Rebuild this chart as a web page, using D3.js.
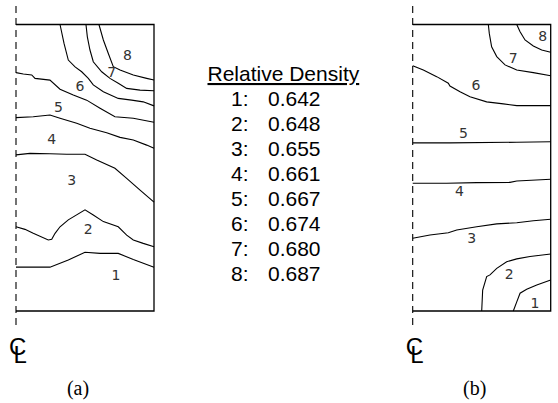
<!DOCTYPE html>
<html>
<head>
<meta charset="utf-8">
<script src="https://cdn.jsdelivr.net/npm/d3@7"></script>
<style>
  body { margin: 0; background: #fff; }
  svg { display: block; }
</style>
</head>
<body>
<svg width="558" height="403"></svg>
<script>
// contour levels (relative density)
var levels = ["1", "2", "3", "4", "5", "6", "7", "8"];
var densities = [0.642, 0.648, 0.655, 0.661, 0.667, 0.674, 0.680, 0.687];

// contours, [r, z] in % of radius (from centre line) and % of height (from bottom)
var contoursA = [
  [[0,15.3],[24.6,15.3],[37.9,17.8],[50,20.5],[60.9,20.1],[74.1,20.1],[85,18],[100,15.3]],
  [[0,29.4],[6.5,28.5],[12.5,27.1],[23.4,24.8],[25.9,25],[28.3,27.1],[31.9,29.4],[37.9,31.8],[50,35.3],[56,33.5],[63.3,31.2],[74.1,29.4],[80.2,26.5],[85,24.8],[92.2,23.6],[100,22.4]],
  [[0,54.5],[10.1,55],[24.6,54.9],[36.7,54.7],[50,54.7],[58.5,52.7],[71.7,49.8],[80.2,46.3],[89.9,42.2],[100,38]],
  [[0,67.5],[12.5,67.8],[24.6,68.4],[31.9,67.3],[44,65.5],[53.6,63.8],[65.7,62.2],[75.4,60.6],[85,59.7],[94.7,57.9],[100,56.8]],
  [[0,83.2],[5.3,82.7],[11.4,82.4],[13.8,81.2],[24.6,80.6],[31.9,77.4],[41.5,75.4],[51.2,73.6],[60.9,70.8],[71.7,67.8],[85,67.3],[100,65.9]],
  [[31.9,100],[34.8,93.4],[37.9,87.6],[42.8,85.2],[47.6,83.5],[52.4,81.2],[56,78.9],[63.3,76.5],[74.1,74.2],[83.8,73.6],[92.2,73],[100,71.6]],
  [[50.7,100],[51.7,95.7],[53.6,91.1],[56,87],[62.1,83.5],[68.1,81.2],[74.1,79.5],[80.2,77.7],[89.9,77.1],[100,76.9]],
  [[60.1,100],[63.3,94.6],[66.9,89.9],[70.5,85.3],[75.4,84.1],[85,82.4],[94.7,81.2],[100,80.6]]
];
var labelsA = [[72.5,12.6],[52.4,28.5],[40.4,45.7],[25.9,59.9],[30.7,71.3],[46.4,78.5],[69.3,83.5],[80.7,89.3]];

var contoursB = [
  [[72.9,0],[75.4,3.2],[77.8,6.2],[82.6,7.6],[89.9,9.1],[100,10.8]],
  [[50,0],[50.7,7.3],[53.6,12],[56,12.6],[60.9,14.9],[68.1,17.2],[75.4,18.2],[85,19],[100,19.9]],
  [[0,25.4],[12.5,26.5],[25.8,27.3],[31.9,28.3],[46.4,29.4],[60.9,30.4],[75.4,30.8],[87.4,31.5],[100,32]],
  [[0,44.6],[24.6,44.6],[46.4,44.8],[70.5,44.9],[75.4,45.4],[100,46]],
  [[0,58.7],[27,58.7],[75.4,58.9],[100,59.1]],
  [[0,85.6],[7.7,84.1],[17.4,81.8],[25.8,79.5],[27,78.5],[34.3,76.5],[41.5,74.8],[53.6,73],[65.7,72.3],[75.4,71.7],[100,71.7]],
  [[54.8,100],[55.5,96.9],[57.2,92.2],[60.9,88.8],[66.9,85.9],[75.4,84.1],[87.4,83.2],[100,82.1]],
  [[75.4,100],[77.8,97.5],[81.4,94.6],[87.4,92.5],[93.5,91.1],[100,90.3]]
];
var labelsB = [[88.6,2.7],[70,12.8],[42.8,25.4],[33.8,42],[36.7,62],[45.9,78.9],[72.9,88.2],[94.2,96]];

var svg = d3.select("svg");

var panelTop = 24.5, panelBottom = 311, panelWidth = 138;

function drawPanel(left, contours, labels, caption) {
  var x = d3.scaleLinear().domain([0, 100]).range([left, left + panelWidth]);
  var y = d3.scaleLinear().domain([0, 100]).range([panelBottom, panelTop]);
  var g = svg.append("g");

  // outline: top, outer wall, bottom (centre line is the dashed one)
  g.append("path")
    .attr("d", d3.line()([[x(0), y(100)], [x(100), y(100)], [x(100), y(0)], [x(0), y(0)]]))
    .attr("fill", "none")
    .attr("stroke", "#000")
    .attr("stroke-width", 1.3);

  // centre line
  g.append("line")
    .attr("x1", x(0)).attr("x2", x(0))
    .attr("y1", 6).attr("y2", 328)
    .attr("stroke", "#000")
    .attr("stroke-width", 1.1)
    .attr("stroke-dasharray", "7,5");

  var line = d3.line().x(function(d) { return x(d[0]); }).y(function(d) { return y(d[1]); });

  g.selectAll("path.contour")
    .data(contours)
    .enter().append("path")
    .attr("class", "contour")
    .attr("d", line)
    .attr("fill", "none")
    .attr("stroke", "#000")
    .attr("stroke-width", 1.1);

  g.selectAll("text.lvl")
    .data(labels)
    .enter().append("text")
    .attr("class", "lvl")
    .attr("x", function(d) { return x(d[0]); })
    .attr("y", function(d) { return y(d[1]); })
    .attr("dy", "0.36em")
    .attr("text-anchor", "middle")
    .attr("font-family", "DejaVu Sans")
    .attr("font-size", 14)
    .attr("fill", "#333")
    .text(function(d, i) { return levels[i]; });

  // centre line symbol: C with an L struck through it
  var cl = g.append("text")
    .attr("x", x(0) - 7).attr("y", 355)
    .attr("font-family", "Liberation Sans")
    .attr("font-size", 24);
  cl.append("tspan").text("C");
  cl.append("tspan").attr("dx", -12.8).attr("dy", 8).text("L");

  g.append("text")
    .attr("x", x(0) + 62).attr("y", 395)
    .attr("text-anchor", "middle")
    .attr("font-family", "Liberation Serif")
    .attr("font-size", 20)
    .text(caption);
}

drawPanel(16, contoursA, labelsA, "(a)");
drawPanel(412.7, contoursB, labelsB, "(b)");

// legend
var legend = svg.append("g").attr("font-family", "Liberation Sans").attr("font-size", 21);
legend.append("text")
  .attr("x", 207.5).attr("y", 81)
  .attr("text-decoration", "underline")
  .text("Relative Density");

legend.selectAll("text.key")
  .data(levels)
  .enter().append("text")
  .attr("class", "key")
  .attr("x", 231)
  .attr("y", function(d, i) { return 106 + i * 25; })
  .text(function(d) { return d + ":"; });

legend.selectAll("text.val")
  .data(densities)
  .enter().append("text")
  .attr("class", "val")
  .attr("x", 268)
  .attr("y", function(d, i) { return 106 + i * 25; })
  .text(function(d) { return d3.format(".3f")(d); });
</script>
</body>
</html>
